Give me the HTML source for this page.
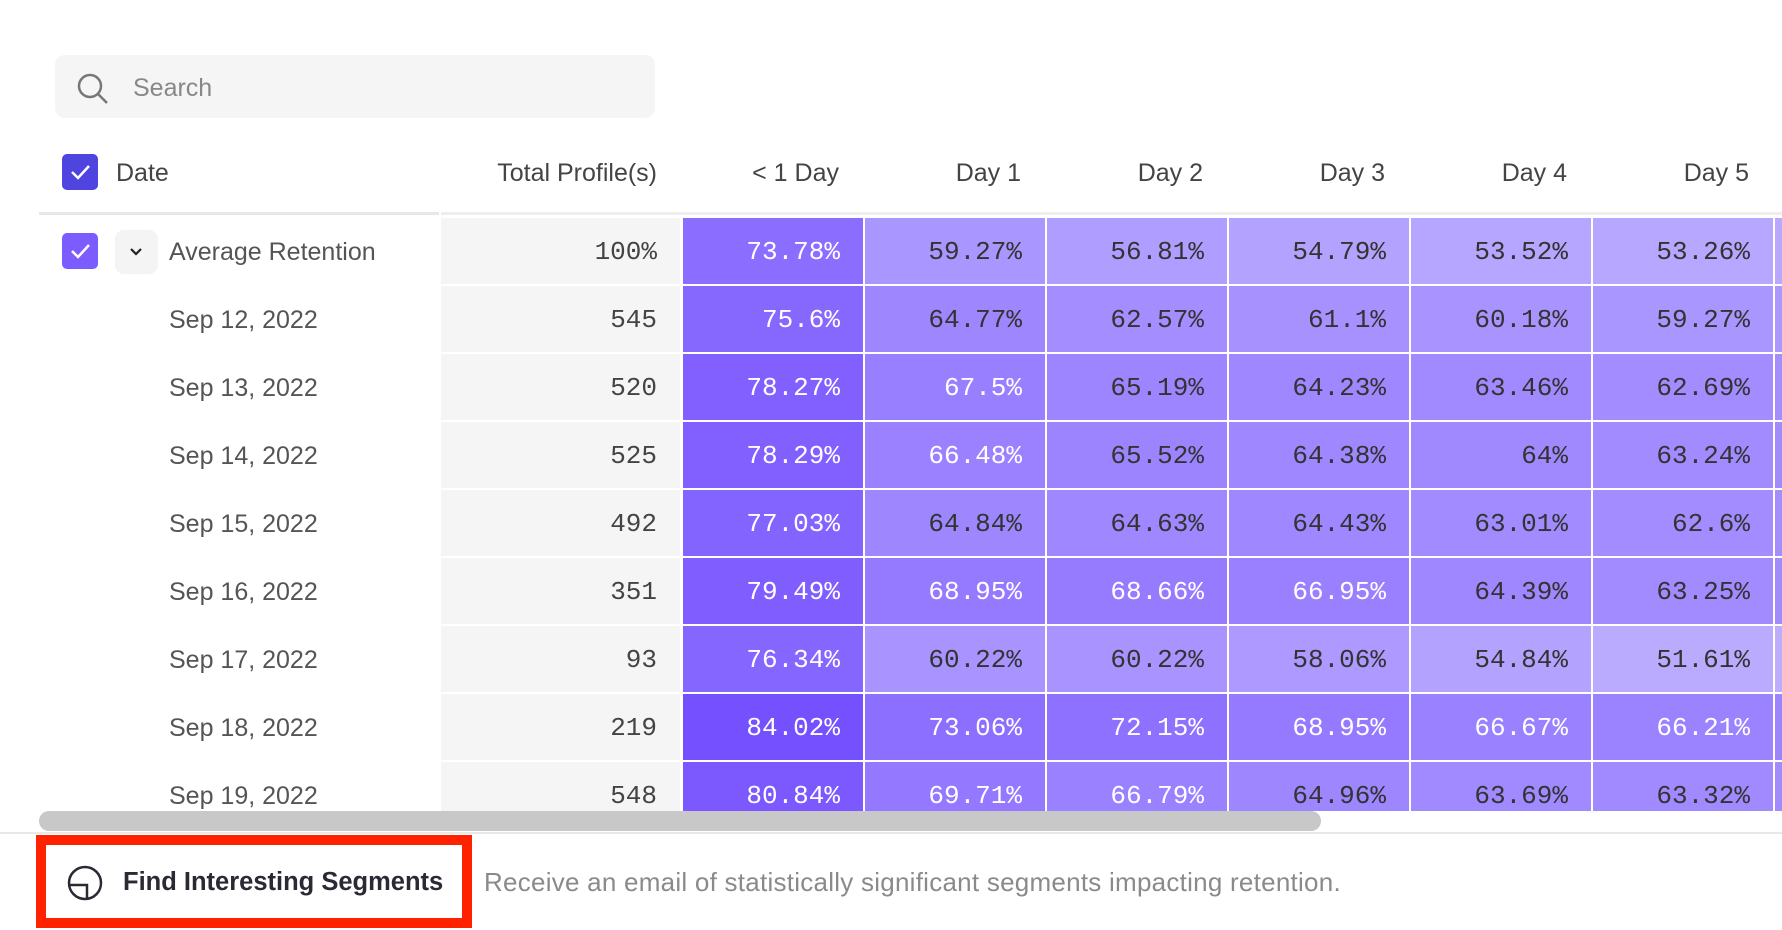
<!DOCTYPE html>
<html><head><meta charset="utf-8">
<style>
*{margin:0;padding:0;box-sizing:border-box}
body{width:1782px;height:930px;overflow:hidden;background:#fff;font-family:"Liberation Sans",sans-serif;position:relative}
.abs{position:absolute}
.search{left:55px;top:55px;width:600px;height:63px;background:#f5f5f5;border-radius:10px}
.hdr{top:157px;font-size:25px;color:#444;line-height:32px}
.cb{width:36px;height:36px;border-radius:5px}
.clip{left:0;top:212px;width:1782px;height:599px;overflow:hidden}
.row{position:absolute;left:0;height:66px;width:1782px}
.c{position:absolute;top:0;height:66px;line-height:68px;text-align:right;padding-right:23px;font-family:"Liberation Mono",monospace;font-size:26px}
.d{width:180px}
.date{position:absolute;left:169px;top:0;line-height:68px;font-size:25px;color:#555}
</style></head><body>
<div class="abs search"></div>
<svg class="abs" style="left:76px;top:72px" width="34" height="34" viewBox="0 0 34 34"><circle cx="14" cy="14" r="11" fill="none" stroke="#777" stroke-width="2.5"/><line x1="22" y1="22" x2="31" y2="31" stroke="#777" stroke-width="2.5"/></svg>
<div class="abs" style="left:133px;top:72px;font-size:25px;color:#888;line-height:32px">Search</div>

<div class="abs cb" style="left:62px;top:154px;background:#4f44e0"></div>
<svg class="abs" style="left:62px;top:154px" width="36" height="36"><path d="M10 18 L16 24 L27 12" fill="none" stroke="#fff" stroke-width="2.5"/></svg>
<div class="abs hdr" style="left:116px">Date</div>
<div class="abs hdr" style="right:1125px">Total Profile(s)</div>
<div class="abs hdr" style="right:943px">&lt; 1 Day</div>
<div class="abs hdr" style="right:761px">Day 1</div>
<div class="abs hdr" style="right:579px">Day 2</div>
<div class="abs hdr" style="right:397px">Day 3</div>
<div class="abs hdr" style="right:215px">Day 4</div>
<div class="abs hdr" style="right:33px">Day 5</div>
<div class="abs" style="left:39px;top:212px;width:400px;height:3px;background:#e8e8e8"></div>
<div class="abs" style="left:441px;top:212px;width:1341px;height:3px;background:#eee"></div>

<div class="abs clip">
<div id="rows"></div>
</div>

<div class="abs" style="left:39px;top:811px;width:1282px;height:20px;background:#c8c8c8;border-radius:10px"></div>
<div class="abs" style="left:0;top:832px;width:1782px;height:2px;background:#e8e8e8"></div>

<div class="abs" style="left:36px;top:835px;width:436px;height:93px;border:10px solid #ff2200"></div>
<svg class="abs" style="left:66px;top:864px" width="38" height="38" viewBox="0 0 38 38"><circle cx="19" cy="19" r="16" fill="none" stroke="#2a2a35" stroke-width="2.5"/><path d="M3 21 H21 V35" fill="none" stroke="#2a2a35" stroke-width="2.5"/></svg>
<div class="abs" style="left:123px;top:866px;font-size:25.5px;font-weight:bold;color:#2a2a35;line-height:32px">Find Interesting Segments</div>
<div class="abs" style="left:484px;top:866px;font-size:26px;letter-spacing:0.25px;color:#8a8a8a;line-height:32px">Receive an email of statistically significant segments impacting retention.</div>

<script>
var data=[
["Average Retention","100%",73.78,59.27,56.81,54.79,53.52,53.26,53],
["Sep 12, 2022","545",75.6,64.77,62.57,61.1,60.18,59.27,59],
["Sep 13, 2022","520",78.27,67.5,65.19,64.23,63.46,62.69,62],
["Sep 14, 2022","525",78.29,66.48,65.52,64.38,64,63.24,63],
["Sep 15, 2022","492",77.03,64.84,64.63,64.43,63.01,62.6,62],
["Sep 16, 2022","351",79.49,68.95,68.66,66.95,64.39,63.25,63],
["Sep 17, 2022","93",76.34,60.22,60.22,58.06,54.84,51.61,51],
["Sep 18, 2022","219",84.02,73.06,72.15,68.95,66.67,66.21,66],
["Sep 19, 2022","548",80.84,69.71,66.79,64.96,63.69,63.32,63]];
function col(v){var t=Math.max(0,Math.min(1,(84-v)/34));
var r=Math.round(117+t*(190-117)),g=Math.round(80+t*(176-80));return "rgb("+r+","+g+",255)";}
var h="";
data.forEach(function(d,i){
 var top=6+i*68;
 h+='<div class="row" style="top:'+top+'px">';
 if(i==0){
  h+='<div class="abs cb" style="left:62px;top:15px;background:#7c5cff"></div><svg class="abs" style="left:62px;top:15px" width="36" height="36"><path d="M10 18 L16 24 L27 12" fill="none" stroke="#fff" stroke-width="2.5"/></svg>';
  h+='<div class="abs" style="left:115px;top:12px;width:43px;height:44px;background:#f4f4f4;border-radius:9px"></div><svg class="abs" style="left:128px;top:27px" width="16" height="14"><path d="M3 4 L8 9 L13 4" fill="none" stroke="#222" stroke-width="2.2"/></svg>';
 }
 h+='<div class="date">'+d[0]+'</div>';
 h+='<div class="c" style="left:441px;width:239px;background:#f5f5f5;color:#444">'+d[1]+'</div>';
 for(var j=2;j<9;j++){
  var v=d[j],x=683+(j-2)*182;
  var txt=j<8?(v+'%'):'';
  var c=v>=66?'#fff':'#333';
  h+='<div class="c d" style="left:'+x+'px;background:'+col(v)+';color:'+c+'">'+txt+'</div>';
 }
 h+='</div>';
});
document.getElementById('rows').innerHTML=h;
</script>
</body></html>
